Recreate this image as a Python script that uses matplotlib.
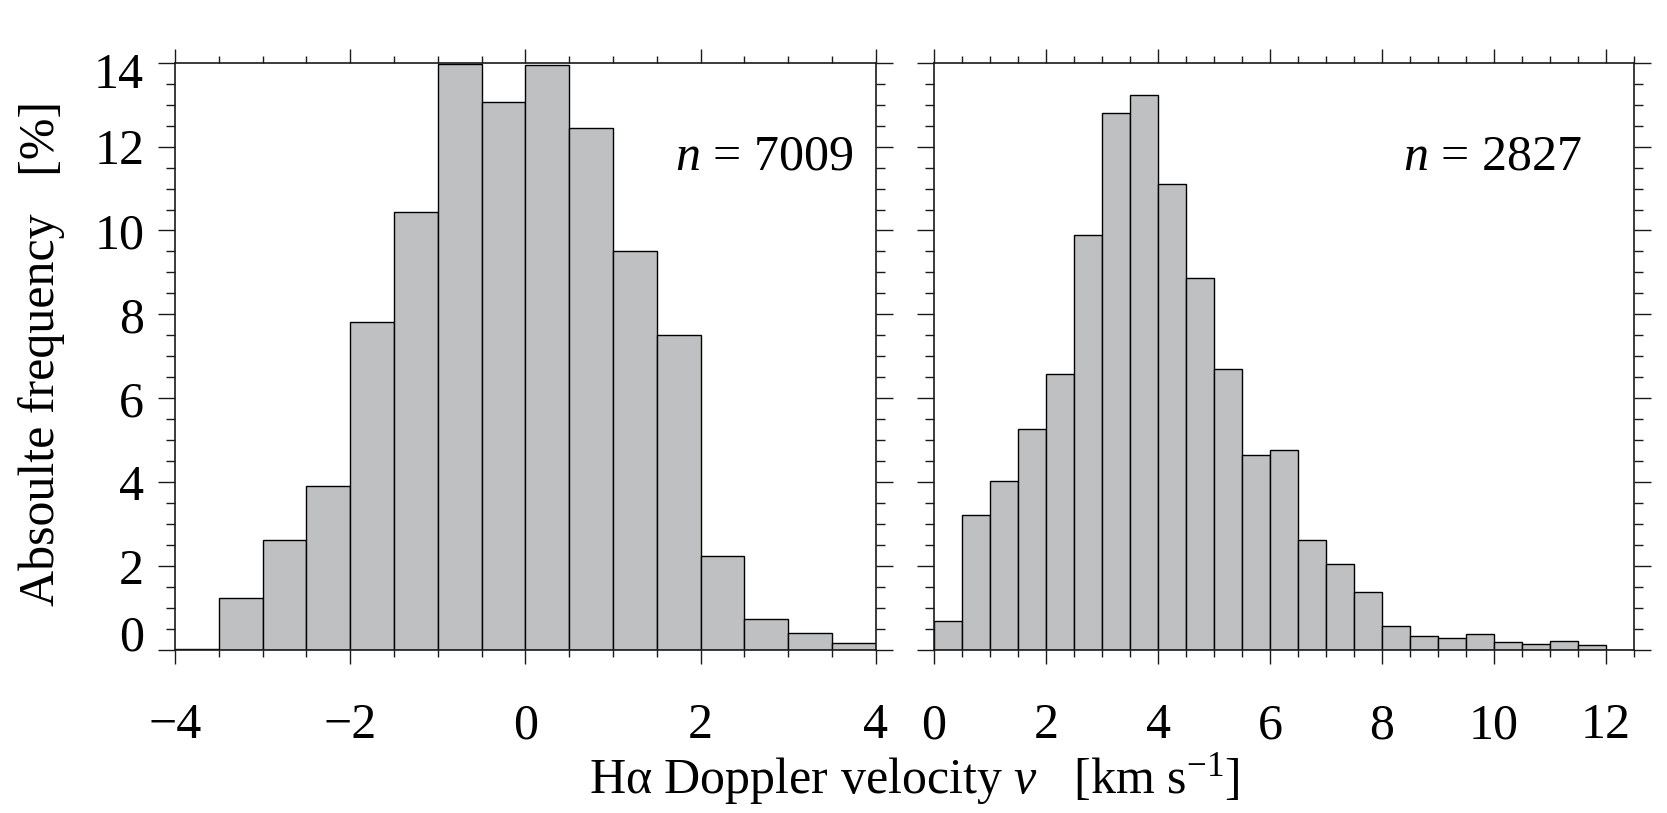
import numpy as np
import matplotlib
matplotlib.use("Agg")
import matplotlib.pyplot as plt
from matplotlib.ticker import MultipleLocator

plt.rcParams['font.family'] = ['Liberation Serif', 'DejaVu Serif']
plt.rcParams['mathtext.fontset'] = 'custom'
plt.rcParams['mathtext.rm'] = 'Liberation Serif'
plt.rcParams['mathtext.it'] = 'Liberation Serif:italic'

# ---- data ----
left_bins = [-4.0, -3.5, -3.0, -2.5, -2.0, -1.5, -1.0, -0.5,
             0.0, 0.5, 1.0, 1.5, 2.0, 2.5, 3.0, 3.5]
left_freq = [0.03, 1.24, 2.62, 3.92, 7.83, 10.43, 13.96, 13.06,
             13.94, 12.45, 9.52, 7.51, 2.23, 0.75, 0.41, 0.17]
left_n = "7009"

right_bins = [0.0, 0.5, 1.0, 1.5, 2.0, 2.5, 3.0, 3.5, 4.0, 4.5, 5.0, 5.5,
              6.0, 6.5, 7.0, 7.5, 8.0, 8.5, 9.0, 9.5, 10.0, 10.5, 11.0,
              11.5, 12.0]
right_freq = [0.68, 3.23, 4.04, 5.26, 6.57, 9.90, 12.81, 13.23, 11.10,
              8.87, 6.71, 4.66, 4.76, 2.63, 2.06, 1.39, 0.58, 0.33, 0.29,
              0.37, 0.18, 0.15, 0.22, 0.12, 0.0]
right_n = "2827"

bin_width = 0.5
left_xticks = [-4, -2, 0, 2, 4]
right_xticks = [0, 2, 4, 6, 8, 10, 12]
yticks = [0, 2, 4, 6, 8, 10, 12, 14]

xlabel = "H\u03b1 Doppler velocity $v$   [km s$^{-1}$]"
ylabel = "Absoulte frequency   [%]"

# ---- figure ----
W, H = 1667, 813
fig = plt.figure(figsize=(W / 100, H / 100), dpi=100)

bar_color = '#bfc0c2'
line_color = '#1a1a1a'
FS = 36


def make_axes(x0, x1):
    return fig.add_axes([x0 / W, (H - 650) / H, (x1 - x0) / W, (650 - 62.7) / H])


ax1 = make_axes(175, 875.7)
ax2 = make_axes(934, 1634)

for ax, bins, freq, xlim, xt, ntxt, nx in [
        (ax1, left_bins, left_freq, (-4, 4), left_xticks, left_n, 0.9676),
        (ax2, right_bins, right_freq, (0, 12.5), right_xticks, right_n, 0.9257)]:
    ax.bar(bins, freq, width=bin_width, align='edge', color=bar_color,
           edgecolor='black', linewidth=1.0, zorder=2)
    ax.set_xlim(*xlim)
    ax.set_ylim(0, 14)
    ax.set_xticks(xt)
    ax.xaxis.set_minor_locator(MultipleLocator(0.5))
    ax.set_yticks(yticks)
    ax.yaxis.set_minor_locator(MultipleLocator(0.5))
    for s in ax.spines.values():
        s.set_linewidth(1.2)
        s.set_color(line_color)
    ax.tick_params(axis='both', which='both', direction='out', color=line_color,
                   top=True, right=True, labelsize=FS, width=1.0)
    ax.tick_params(axis='x', which='major', length=10, pad=28)
    ax.tick_params(axis='x', which='minor', length=5)
    ax.tick_params(axis='y', which='major', length=12.2, pad=10)
    ax.tick_params(axis='y', which='minor', length=6.7)
    ax.text(nx, 0.8173, "$n$ = " + ntxt, transform=ax.transAxes,
            ha='right', va='baseline', fontsize=FS)

# y tick labels: only on left panel; 0 and 14 nudged inside
ax1.set_yticklabels([str(v) if v not in (0, 14) else '' for v in yticks])
ax2.set_yticklabels([])
ax1.annotate('0', xy=(0, 0), xycoords=('axes fraction', 'data'),
             xytext=(-22.3, 0), textcoords='offset points',
             ha='right', va='baseline', fontsize=FS)
ax1.annotate('14', xy=(0, 14), xycoords=('axes fraction', 'data'),
             xytext=(-22.3, -9.4), textcoords='offset points',
             ha='right', va='center', fontsize=FS)

fig.text(914 / W, (H - 793) / H, xlabel, ha='center', va='baseline', fontsize=FS)
fig.text(42 / W, (H - 353) / H, ylabel, rotation=90, ha='center', va='center',
         fontsize=FS)

fig.savefig('out.png', dpi=100)
